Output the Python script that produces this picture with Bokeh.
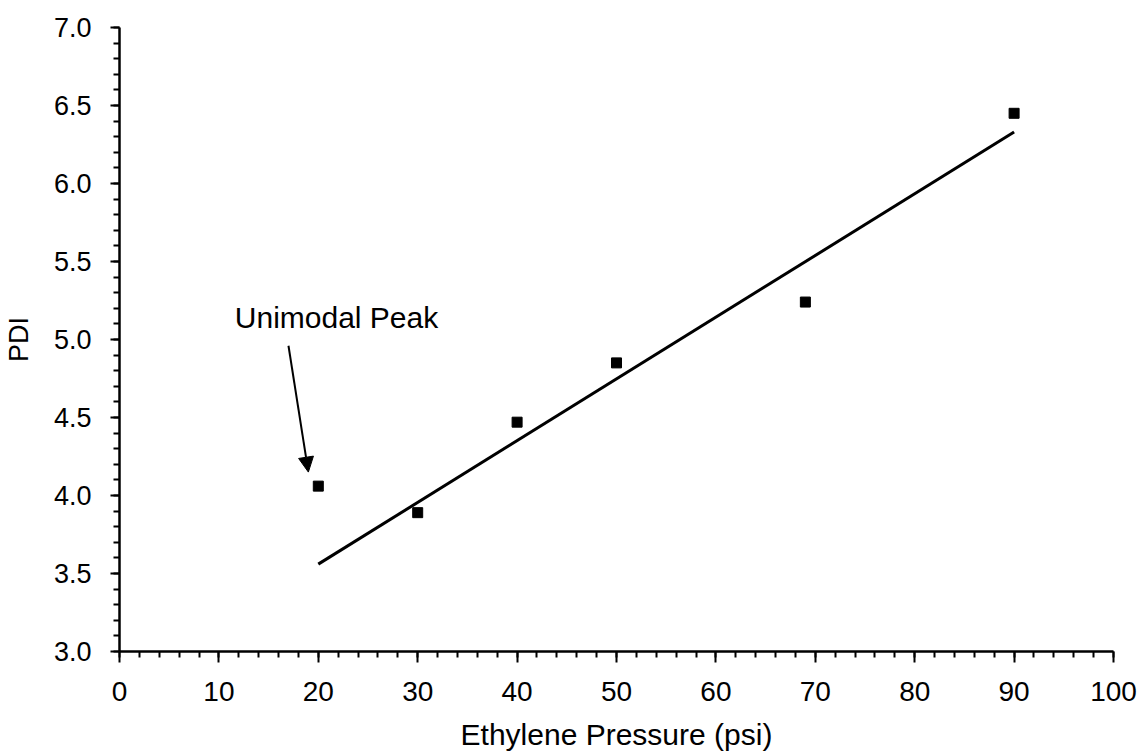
from bokeh.plotting import figure
from bokeh.models import Range1d, FixedTicker, PrintfTickFormatter, Arrow, NormalHead, Label
from bokeh.embed import file_html
from bokeh.resources import INLINE

# Data
pressure = [20, 30, 40, 50, 69, 90]
pdi = [4.06, 3.89, 4.47, 4.85, 5.24, 6.45]
fit_x = [20, 90]
fit_y = [3.56, 6.33]
x_ticks = [0, 10, 20, 30, 40, 50, 60, 70, 80, 90, 100]
y_ticks = [3.0, 3.5, 4.0, 4.5, 5.0, 5.5, 6.0, 6.5, 7.0]
annot_text = "Unimodal Peak"
annot_pos = (11.6, 5.14)
arrow_from = (17.0, 4.96)
arrow_to = (19.0, 4.15)

FONT = "Liberation Sans"

p = figure(width=1142, height=754, output_backend="svg", toolbar_location=None,
           x_range=Range1d(0, 100), y_range=Range1d(3, 7),
           min_border_left=119, min_border_right=29, min_border_top=27, min_border_bottom=103)
p.outline_line_color = None
p.grid.visible = False
p.background_fill_color = "white"
p.border_fill_color = "white"

# x axis
xa = p.xaxis[0]
xa.ticker = FixedTicker(ticks=x_ticks, minor_ticks=[v for v in range(0, 101, 2)])
xa.axis_line_width = 2.5
xa.axis_line_color = "black"
xa.major_tick_line_width = 2
xa.minor_tick_line_width = 2
xa.major_tick_out = 11
xa.major_tick_in = 0
xa.minor_tick_out = 6
xa.minor_tick_in = 0
xa.major_label_text_font = FONT
xa.major_label_text_font_size = "28px"
xa.major_label_text_color = "black"
xa.major_label_standoff = 19
xa.axis_label = "Ethylene Pressure (psi)"
xa.axis_label_text_font = FONT
xa.axis_label_text_font_size = "30px"
xa.axis_label_text_font_style = "normal"
xa.axis_label_text_color = "black"
xa.axis_label_standoff = 14

# y axis
ya = p.yaxis[0]
ya.ticker = FixedTicker(ticks=y_ticks, minor_ticks=[3.0 + 0.1 * i for i in range(41)])
ya.formatter = PrintfTickFormatter(format="%.1f")
ya.axis_line_width = 2.5
ya.axis_line_color = "black"
ya.major_tick_line_width = 2
ya.minor_tick_line_width = 2
ya.major_tick_out = 9
ya.major_tick_in = 0
ya.minor_tick_out = 6
ya.minor_tick_in = 0
ya.major_label_text_font = FONT
ya.major_label_text_font_size = "27px"
ya.major_label_text_color = "black"
ya.major_label_standoff = 19
ya.axis_label = "PDI"
ya.axis_label_text_font = FONT
ya.axis_label_text_font_size = "27px"
ya.axis_label_text_font_style = "normal"
ya.axis_label_text_color = "black"
ya.axis_label_standoff = 17

# fit line
p.line(fit_x, fit_y, line_color="black", line_width=3)
# data points
p.scatter(pressure, pdi, marker="square", size=10, fill_color="black", line_color="black")

# annotation
p.add_layout(Arrow(end=NormalHead(size=15, fill_color="black", line_color="black"),
                   x_start=arrow_from[0], y_start=arrow_from[1],
                   x_end=arrow_to[0], y_end=arrow_to[1],
                   line_width=2, line_color="black"))
p.add_layout(Label(x=annot_pos[0], y=annot_pos[1], text=annot_text,
                   text_font=FONT, text_font_size="30px", text_color="black",
                   text_baseline="alphabetic"))

open("out.html", "w").write(file_html(p, INLINE))
